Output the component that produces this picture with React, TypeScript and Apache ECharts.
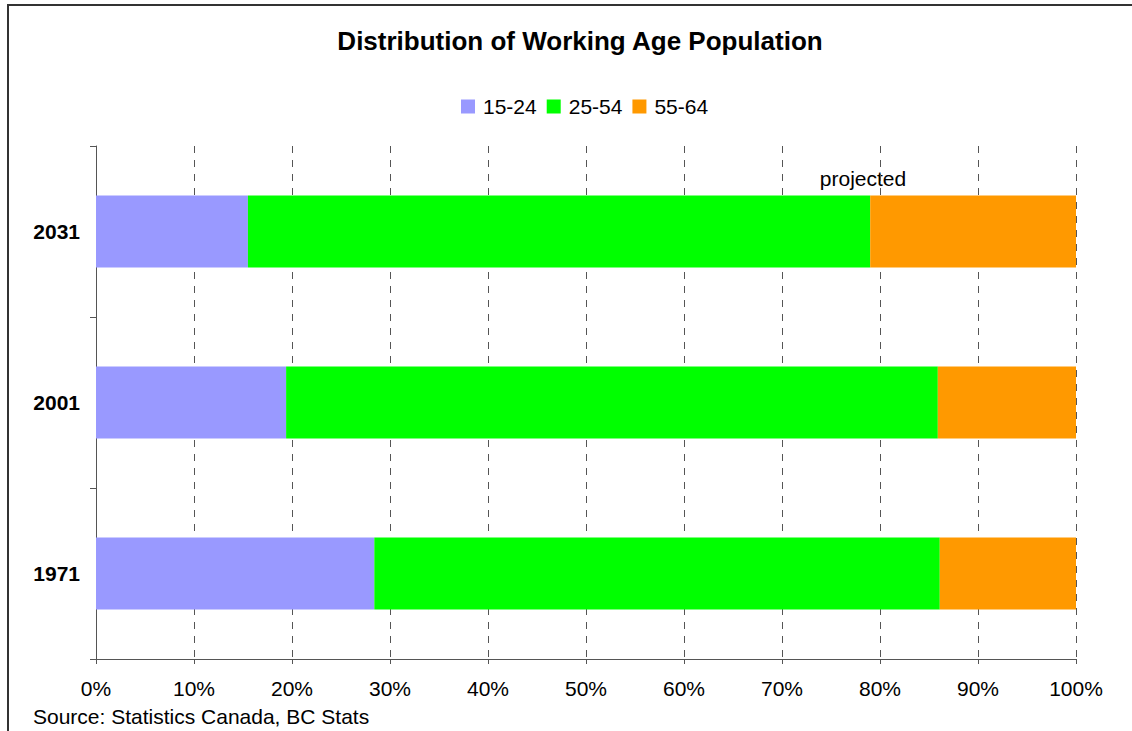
import React, { useEffect, useRef } from "react";
import * as echarts from "echarts";

const categories = ["1971", "2001", "2031"];
const age15to24 = [28.4, 19.4, 15.5];
const age25to54 = [57.7, 66.5, 63.5];
const age55to64 = [13.9, 14.1, 21.0];
const seriesNames = ["15-24", "25-54", "55-64"];
const xTicks = [0, 10, 20, 30, 40, 50, 60, 70, 80, 90, 100];

const FONT = "'Liberation Sans', Arial, sans-serif";
const FS = 21;

export default function App() {
  const ref = useRef<HTMLDivElement>(null);
  useEffect(() => {
    if (!ref.current) return;
    const chart = echarts.init(ref.current, null, { renderer: "svg" });
    const colors = ["#9999FF", "#00FF00", "#FF9900"];
    const data = [age15to24, age25to54, age55to64];
    chart.setOption({
      animation: false,
      backgroundColor: "#fff",
      textStyle: { fontFamily: FONT },
      title: {
        text: "Distribution of Working Age Population",
        left: 575,
        textAlign: "center",
        top: 23,
        textStyle: { fontFamily: FONT, fontSize: 26, fontWeight: "bold", color: "#000" },
      },
      legend: {
        data: seriesNames,
        left: 456,
        top: 91,
        itemWidth: 14,
        itemHeight: 14,
        itemGap: 10,
        icon: "rect",
        textStyle: { fontFamily: FONT, fontSize: FS, color: "#000", padding: [0, 0, 0, 3] },
      },
      grid: { left: 96, right: 56, top: 146, bottom: 72, containLabel: false },
      xAxis: {
        type: "value",
        min: xTicks[0],
        max: xTicks[xTicks.length - 1],
        interval: 10,
        axisLine: { show: true, lineStyle: { color: "#555", width: 1 } },
        axisTick: { show: true, length: 5, lineStyle: { color: "#555" } },
        axisLabel: {
          formatter: "{value}%",
          fontFamily: FONT,
          fontSize: FS,
          color: "#000",
          margin: 19,
        },
        splitLine: { show: true, lineStyle: { type: [7, 7], color: "#555", width: 1 } },
      },
      yAxis: {
        type: "category",
        data: categories,
        axisLine: { show: true, lineStyle: { color: "#555", width: 1 } },
        axisTick: { show: true, length: 6, lineStyle: { color: "#555" } },
        axisLabel: {
          fontFamily: FONT,
          fontSize: FS,
          fontWeight: "bold",
          color: "#000",
          margin: 16,
        },
      },
      series: data.map((d, i) => ({
        name: seriesNames[i],
        type: "bar",
        stack: "total",
        data: d,
        barWidth: 72,
        itemStyle: { color: colors[i] },
      })),
      graphic: [
        {
          type: "rect",
          shape: { x: 8, y: 5, width: 1140, height: 740 },
          style: { fill: "none", stroke: "#333", lineWidth: 2 },
          silent: true,
        },
        {
          type: "text",
          x: 863,
          y: 178,
          style: {
            text: "projected",
            fontFamily: FONT,
            fontSize: FS,
            fill: "#000",
            textAlign: "center",
            textVerticalAlign: "middle",
          },
        },
        {
          type: "text",
          x: 33,
          y: 716,
          style: {
            text: "Source: Statistics Canada, BC Stats",
            fontFamily: FONT,
            fontSize: FS,
            fill: "#000",
            textAlign: "left",
            textVerticalAlign: "middle",
          },
        },
      ],
    });
    return () => chart.dispose();
  }, []);
  return (
    <div
      ref={ref}
      style={{ position: "absolute", left: 0, top: 0, width: 1132, height: 731 }}
    />
  );
}
